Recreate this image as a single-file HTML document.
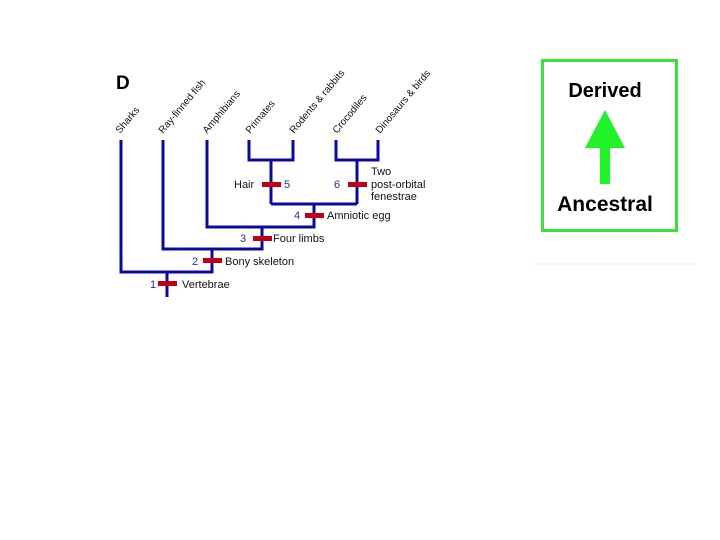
<!DOCTYPE html>
<html><head><style>body{margin:0;background:#fff}svg{display:block}</style></head><body>
<svg width="720" height="540" xmlns="http://www.w3.org/2000/svg" font-family="Liberation Sans, Arial, sans-serif">
<rect width="720" height="540" fill="#fff"/>
<text x="116" y="89" font-size="19" font-weight="bold">D</text>
<g font-size="10" fill="#111">
<text transform="translate(120,134) rotate(-50)">Sharks</text>
<text transform="translate(163,134) rotate(-50)">Ray-finned fish</text>
<text transform="translate(207,134) rotate(-50)">Amphibians</text>
<text transform="translate(250,134) rotate(-50)">Primates</text>
<text transform="translate(294,134) rotate(-50)">Rodents &amp; rabbits</text>
<text transform="translate(337,134) rotate(-50)">Crocodiles</text>
<text transform="translate(380,134) rotate(-50)">Dinosaurs &amp; birds</text>
</g>
<g stroke="#0a0aa0" stroke-width="3" fill="none">
<path d="M121 140V272H212V249"/>
<path d="M167 272V297"/>
<path d="M163 140V249H262V227"/>
<path d="M207 140V227H314V204"/>
<path d="M271 204H357"/>
<path d="M249 140V160H293V140"/>
<path d="M271 160V204"/>
<path d="M336 140V160H378V140"/>
<path d="M357 160V204"/>
</g>
<g fill="#c00010">
<rect x="158" y="281" width="19" height="5"/>
<rect x="203" y="258" width="19" height="5"/>
<rect x="253" y="236" width="19" height="5"/>
<rect x="305" y="213" width="19" height="5"/>
<rect x="262" y="182" width="19" height="5"/>
<rect x="348" y="182" width="19" height="5"/>
</g>
<g font-size="11" fill="#2a2aa0">
<text x="150" y="288">1</text><text x="192" y="265">2</text><text x="240" y="242">3</text>
<text x="294" y="219">4</text><text x="284" y="188">5</text><text x="334" y="188">6</text>
</g>
<g font-size="11" fill="#111">
<text x="182" y="288">Vertebrae</text>
<text x="225" y="265">Bony skeleton</text>
<text x="273" y="242">Four limbs</text>
<text x="327" y="219">Amniotic egg</text>
<text x="234" y="188">Hair</text>
<text x="371" y="175">Two</text>
<text x="371" y="188">post-orbital</text>
<text x="371" y="200">fenestrae</text>
</g>
<rect x="542.5" y="60.5" width="134" height="170" fill="#fff" stroke="#3be03b" stroke-width="3"/>
<text x="605" y="97" font-size="20" font-weight="bold" text-anchor="middle">Derived</text>
<path d="M605 110L625 148H610V184H600V148H585Z" fill="#22f22a"/>
<text x="605" y="211" font-size="21" font-weight="bold" text-anchor="middle">Ancestral</text>
<line x1="535" y1="264" x2="695" y2="264" stroke="#eee" stroke-width="1"/>
</svg>
</body></html>
